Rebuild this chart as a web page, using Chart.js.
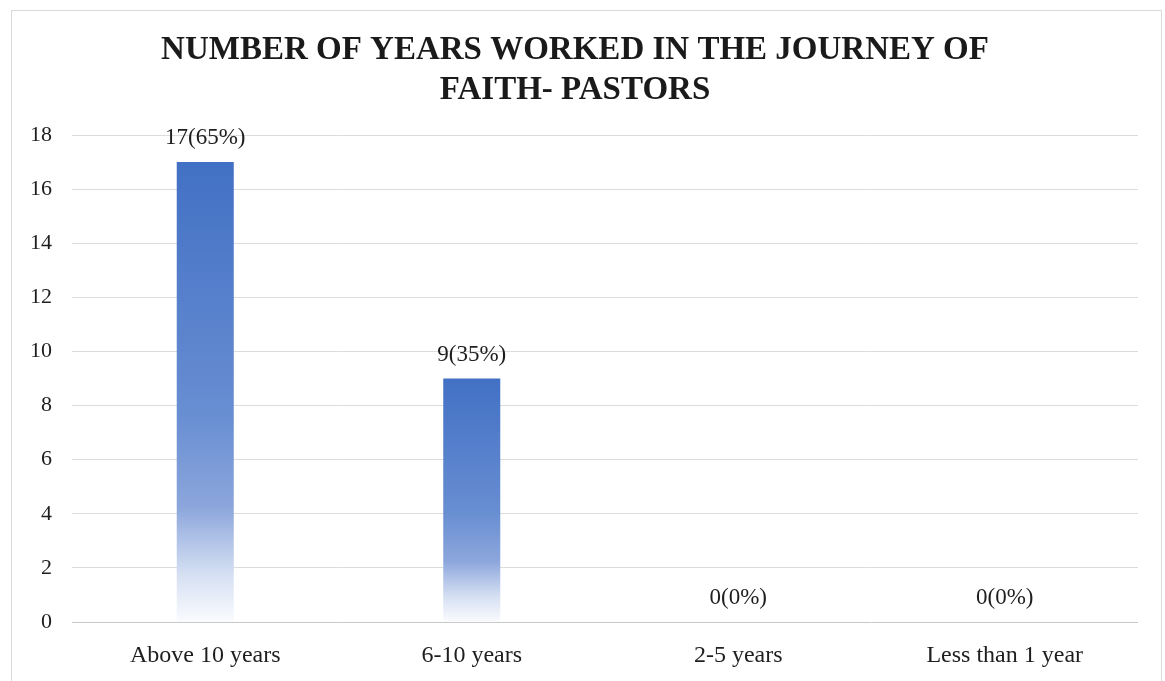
<!DOCTYPE html>
<html>
<head>
<meta charset="utf-8">
<title>Years worked - pastors</title>
<script src="https://cdn.jsdelivr.net/npm/chart.js@4"></script>
<style>
    body { margin: 0; background: #ffffff; }
    #frame {
        position: absolute;
        left: 11px;
        top: 10px;
        width: 1151px;
        height: 671px;
        box-sizing: border-box;
        border: 1px solid #d9d9d9;
        border-bottom: none;
    }
</style>
</head>
<body>
<div id="frame"><canvas id="yearsChart"></canvas></div>
<script>
// Chart data
const categories = ['Above 10 years', '6-10 years', '2-5 years', 'Less than 1 year'];
const pastorCounts = [17, 9, 0, 0];
const pastorPercents = [65, 35, 0, 0];
const yTicks = [0, 2, 4, 6, 8, 10, 12, 14, 16, 18];

const serif = '"Liberation Serif", "Times New Roman", serif';

// Vertical gradient per bar: strong blue at the top fading to white at the base
function barGradient(context) {
    const chart = context.chart;
    if (!chart.chartArea || context.type !== 'data') {
        return '#4472c4';
    }
    const yScale = chart.scales.y;
    const top = yScale.getPixelForValue(context.raw);
    const base = yScale.getPixelForValue(0);
    if (base - top < 1) {
        return '#4472c4';
    }
    const g = chart.ctx.createLinearGradient(0, top, 0, base);
    g.addColorStop(0, 'rgb(66,112,196)');
    g.addColorStop(0.55, 'rgb(104,142,210)');
    g.addColorStop(0.75, 'rgb(140,166,220)');
    g.addColorStop(0.9, 'rgb(215,225,243)');
    g.addColorStop(1, 'rgb(250,251,254)');
    return g;
}

// Draws "count(percent%)" above each bar
const valueLabels = {
    id: 'valueLabels',
    afterDatasetsDraw(chart) {
        const ctx = chart.ctx;
        const meta = chart.getDatasetMeta(0);
        ctx.save();
        ctx.font = '23px ' + serif;
        ctx.fillStyle = '#1e1e1e';
        ctx.textAlign = 'center';
        ctx.textBaseline = 'middle';
        meta.data.forEach((bar, i) => {
            const text = pastorCounts[i] + '(' + pastorPercents[i] + '%)';
            ctx.fillText(text, bar.x, bar.y - 24);
        });
        ctx.restore();
    }
};

const ctx = document.getElementById('yearsChart').getContext('2d');
const yearsChart = new Chart(ctx, {
    type: 'bar',
    data: {
        labels: categories,
        datasets: [{
            label: 'Pastors',
            data: pastorCounts,
            backgroundColor: barGradient,
            borderWidth: 0,
            barPercentage: 0.214,
            categoryPercentage: 1
        }]
    },
    options: {
        responsive: true,
        maintainAspectRatio: false,
        animation: false,
        layout: {
            padding: { left: 0, right: 23, top: 0, bottom: 0 }
        },
        scales: {
            x: {
                grid: { display: false },
                border: { display: false },
                ticks: {
                    color: '#1e1e1e',
                    padding: 11,
                    font: { family: serif, size: 24 }
                },
                afterFit(scale) {
                    scale.height = 59;
                }
            },
            y: {
                min: 0,
                max: 18,
                afterBuildTicks(scale) {
                    scale.ticks = yTicks.map(v => ({ value: v }));
                },
                border: { display: false },
                grid: {
                    color: (c) => c.tick && c.tick.value === 0 ? '#c8c8c8' : '#dcdcdc',
                    lineWidth: 1,
                    drawTicks: false
                },
                ticks: {
                    color: '#1e1e1e',
                    padding: 20,
                    font: { family: serif, size: 22 }
                },
                afterFit(scale) {
                    scale.width = 60;
                }
            }
        },
        plugins: {
            legend: { display: false },
            tooltip: { enabled: false },
            title: {
                display: true,
                text: ['NUMBER OF YEARS WORKED IN THE JOURNEY OF', 'FAITH- PASTORS'],
                color: '#1a1a1a',
                font: { family: serif, size: 33, weight: 'bold', lineHeight: '40px' },
                padding: { top: 19, bottom: 25 }
            }
        }
    },
    plugins: [valueLabels]
});
</script>
</body>
</html>
